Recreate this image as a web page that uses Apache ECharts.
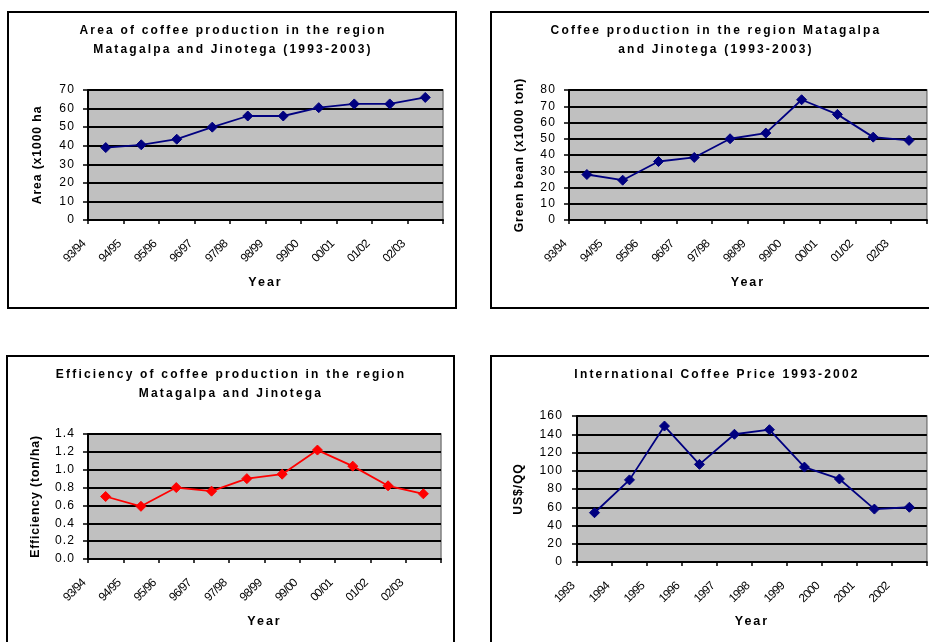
<!DOCTYPE html>
<html>
<head>
<meta charset="utf-8">
<script src="https://cdn.jsdelivr.net/npm/echarts@6/dist/echarts.min.js"></script>
<style>
  html, body { margin: 0; padding: 0; background: #fff; }
  #chart { width: 929px; height: 642px; }
</style>
</head>
<body>
<div id="chart"></div>
<script>
// Season labels (x axis of the three regional charts)
const seasons = ['93/94', '94/95', '95/96', '96/97', '97/98', '98/99', '99/00', '00/01', '01/02', '02/03'];
// Year labels (x axis of the price chart)
const years = ['1993', '1994', '1995', '1996', '1997', '1998', '1999', '2000', '2001', '2002'];

// Area under coffee (x1000 ha)
const areaValues = [39, 40.5, 43.5, 50, 56, 56, 60.5, 62.5, 62.5, 66];
// Green bean production (x1000 ton)
const greenBeanValues = [28, 24.5, 36, 38.5, 50, 53.5, 74, 65, 51, 49];
// Efficiency (ton/ha)
const efficiencyValues = [0.70, 0.59, 0.80, 0.76, 0.90, 0.95, 1.22, 1.04, 0.82, 0.73];
// International coffee price (US$/QQ)
const priceValues = [54, 90, 149, 107, 140, 145, 104, 91, 58, 60];

const FONT = 'Liberation Sans';

// Text sizes; each size gets its own tracking (letter spacing) below.
const SIZE_TITLE = 12;
const SIZE_YNAME = 12.2;
const SIZE_XNAME = 12.5;
const SIZE_YTICK = 12.1;
const SIZE_XTICK = 11.9;
const tracking = {};
tracking[SIZE_TITLE] = '2.2px';
tracking[SIZE_YNAME] = '0.9px';
tracking[SIZE_XNAME] = '2px';
tracking[SIZE_YTICK] = '1.1px';
tracking[SIZE_XTICK] = '-0.8px';

// Apply the wide, spaced-out lettering of the chart text on the canvas.
(function () {
  const proto = CanvasRenderingContext2D.prototype;
  if (!('letterSpacing' in proto)) return;
  const fill = proto.fillText;
  proto.fillText = function () {
    const m = /([\d.]+)px/.exec(this.font);
    const sp = m ? tracking[parseFloat(m[1])] : undefined;
    if (sp === undefined) return fill.apply(this, arguments);
    const prev = this.letterSpacing;
    this.letterSpacing = sp;
    const r = fill.apply(this, arguments);
    this.letterSpacing = prev;
    return r;
  };
})();

const panels = [
  {
    title: 'Area of coffee production in the region\nMatagalpa and Jinotega (1993-2003)',
    titleX: 233, titleY: 21,
    grid: { left: 88, top: 90, width: 355, height: 130 },
    categories: seasons, values: areaValues,
    yName: 'Area (x1000 ha', yNameGap: 44, xNameGap: 56,
    yMax: 70, yStep: 10, decimals: 0, yLabelMargin: 13,
    color: '#000080'
  },
  {
    title: 'Coffee production in the region Matagalpa\nand Jinotega (1993-2003)',
    titleX: 716, titleY: 21,
    grid: { left: 569, top: 90, width: 358, height: 130 },
    categories: seasons, values: greenBeanValues,
    yName: 'Green bean (x1000 ton)', yNameGap: 43, xNameGap: 56,
    yMax: 80, yStep: 10, decimals: 0, yLabelMargin: 13,
    color: '#000080'
  },
  {
    title: 'Efficiency of coffee production in the region\nMatagalpa and Jinotega',
    titleX: 231, titleY: 365,
    grid: { left: 88, top: 434, width: 353, height: 125 },
    categories: seasons, values: efficiencyValues,
    yName: 'Efficiency (ton/ha)', yNameGap: 46, xNameGap: 56,
    yMax: 1.4, yStep: 0.2, decimals: 1, yLabelMargin: 13,
    color: '#FF0000'
  },
  {
    title: 'International Coffee Price 1993-2002',
    titleX: 717, titleY: 365,
    grid: { left: 577, top: 416, width: 350, height: 146 },
    categories: years, values: priceValues,
    yName: 'US$/QQ', yNameGap: 52, xNameGap: 53,
    yMax: 160, yStep: 20, decimals: 0, yLabelMargin: 14,
    color: '#000080'
  }
];

const frame = (x, y, w, h) => ({
  type: 'rect', shape: { x: x, y: y, width: w, height: h },
  style: { fill: 'none', stroke: '#000', lineWidth: 2 }, z: 10, silent: true
});

const option = {
  animation: false,
  title: [],
  grid: [],
  xAxis: [],
  yAxis: [],
  series: [],
  graphic: [
    frame(8, 12, 448, 296),
    frame(491, 12, 470, 296),
    frame(7, 356, 447, 320),
    frame(491, 356, 470, 320)
  ]
};

panels.forEach((p, i) => {
  option.title.push({
    text: p.title,
    left: p.titleX,
    top: p.titleY,
    padding: 0,
    textAlign: 'center',
    textStyle: { fontFamily: FONT, fontWeight: 'bold', fontSize: SIZE_TITLE, lineHeight: 19, color: '#000' }
  });

  option.grid.push(Object.assign({
    show: true,
    backgroundColor: '#C0C0C0',
    borderColor: '#808080',
    borderWidth: 1.5,
    containLabel: false
  }, p.grid));

  // category axis carrying the data points (centred in each band)
  option.xAxis.push({
    type: 'category',
    gridIndex: i,
    data: p.categories,
    boundaryGap: true,
    show: false
  });
  // visible axis: labels and ticks sit on the band boundaries
  option.xAxis.push({
    type: 'category',
    gridIndex: i,
    position: 'bottom',
    data: p.categories.concat(['']),
    boundaryGap: false,
    name: 'Year',
    nameLocation: 'middle',
    nameGap: p.xNameGap,
    nameTextStyle: { fontFamily: FONT, fontWeight: 'bold', fontSize: SIZE_XNAME, color: '#000' },
    axisLine: { lineStyle: { color: '#000', width: 2 } },
    axisTick: { show: true, length: 4, inside: false, lineStyle: { color: '#000', width: 1.5 } },
    axisLabel: {
      interval: 0, rotate: 45, margin: 18, padding: [0, 6, 0, 0],
      fontFamily: FONT, fontSize: SIZE_XTICK, color: '#000'
    },
    splitLine: { show: false }
  });

  option.yAxis.push({
    type: 'value',
    gridIndex: i,
    min: 0, max: p.yMax, interval: p.yStep,
    name: p.yName,
    nameLocation: 'middle',
    nameGap: p.yNameGap,
    nameRotate: 90,
    nameTextStyle: { fontFamily: FONT, fontWeight: 'bold', fontSize: SIZE_YNAME, color: '#000' },
    axisLine: { show: true, lineStyle: { color: '#000', width: 2 } },
    axisTick: { show: true, length: 5, lineStyle: { color: '#000', width: 1.5 } },
    axisLabel: {
      margin: p.yLabelMargin,
      fontFamily: FONT, fontSize: SIZE_YTICK, color: '#000',
      formatter: v => v.toFixed(p.decimals)
    },
    splitLine: { show: true, lineStyle: { color: '#000', width: 2 } }
  });

  option.series.push({
    type: 'line',
    xAxisIndex: i * 2,
    yAxisIndex: i,
    data: p.values,
    symbol: 'diamond',
    symbolSize: 10,
    showAllSymbol: true,
    lineStyle: { color: p.color, width: 1.8 },
    itemStyle: { color: p.color, borderColor: p.color },
    z: 5
  });
});

const chart = echarts.init(document.getElementById('chart'), null, { renderer: 'canvas' });
chart.setOption(option);
</script>
</body>
</html>
